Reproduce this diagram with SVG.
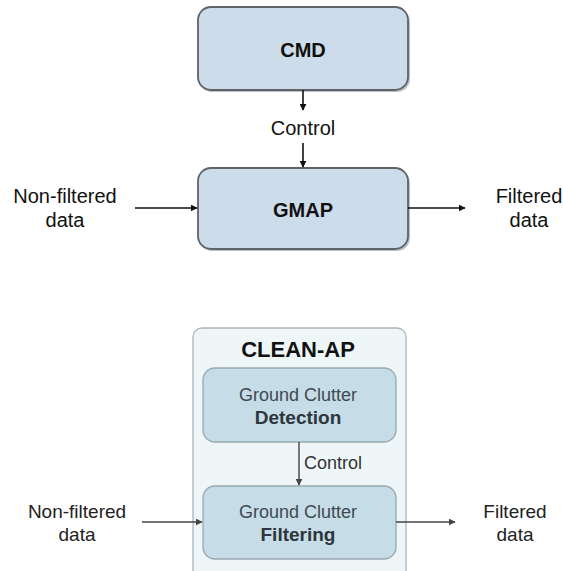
<svg xmlns="http://www.w3.org/2000/svg" width="563" height="571" viewBox="0 0 563 571">
<defs>
<marker id="ah" viewBox="0 0 10 10" refX="9" refY="5" markerWidth="7" markerHeight="7" markerUnits="userSpaceOnUse" orient="auto"><path d="M0,0 L10,5 L0,10 z" fill="#111"/></marker>
<marker id="ahg" viewBox="0 0 10 10" refX="9" refY="5" markerWidth="7" markerHeight="7" markerUnits="userSpaceOnUse" orient="auto"><path d="M0,0 L10,5 L0,10 z" fill="#444"/></marker>
<style>
text{font-family:"Liberation Sans",Arial,sans-serif;text-anchor:middle}
.lbl{font-size:20px;fill:#111}
.lblb{font-size:19px;fill:#222}
.top{fill:#cddcea;stroke:#5f6468;stroke-width:1.8}
.shadow{fill:#b9c2c9}
.outer{fill:#eef6f8;stroke:#a9b6bc;stroke-width:1.3}
.inner{fill:#c6dce6;stroke:#98a9b1;stroke-width:1.3}
.t1{font-size:20px;font-weight:bold;fill:#111}
.gc{font-size:18px;fill:#3e4a52}
.gcb{font-size:19px;font-weight:bold;fill:#2c363c}
.c1{stroke:#111;stroke-width:1.6;fill:none}
.c2{stroke:#444;stroke-width:1.4;fill:none}
</style>
</defs>
<rect width="563" height="571" fill="#fff"/>
<g id="cmd">
<rect class="shadow" x="199" y="9" width="211" height="83" rx="13"/>
<rect class="top" x="198" y="7" width="210" height="83" rx="13"/>
<text class="t1" x="303" y="57">CMD</text>
</g>
<g id="gmap">
<rect class="shadow" x="199" y="170" width="211" height="81" rx="13"/>
<rect class="top" x="198" y="168" width="210" height="81" rx="13"/>
<text class="t1" x="303" y="217">GMAP</text>
</g>
<g id="labels-top">
<text class="lbl" x="303" y="135">Control</text>
<text class="lbl" x="65" y="203">Non-filtered</text>
<text class="lbl" x="65" y="227">data</text>
<text class="lbl" x="529" y="203">Filtered</text>
<text class="lbl" x="529" y="227">data</text>
</g>
<g id="clean-ap">
<rect class="outer" x="193" y="328" width="213" height="260" rx="9"/>
<text x="298" y="357" style="font-size:22px;font-weight:bold;fill:#111">CLEAN-AP</text>
</g>
<g id="detection">
<rect class="inner" x="203" y="368" width="193" height="74" rx="12"/>
<text class="gc" x="298" y="401">Ground Clutter</text>
<text class="gcb" x="298" y="424">Detection</text>
</g>
<g id="filtering">
<rect class="inner" x="203" y="486" width="193" height="73" rx="12"/>
<text class="gc" x="298" y="518">Ground Clutter</text>
<text class="gcb" x="298" y="541">Filtering</text>
</g>
<g id="labels-bottom">
<text class="gc" x="329" y="469" style="text-anchor:start;fill:#333" transform="translate(-25 0)">Control</text>
<text class="lblb" x="77" y="518">Non-filtered</text>
<text class="lblb" x="77" y="541">data</text>
<text class="lblb" x="515" y="518">Filtered</text>
<text class="lblb" x="515" y="541">data</text>
</g>
<g id="connectors">
<line class="c1" x1="303" y1="90" x2="303" y2="110" marker-end="url(#ah)"/>
<line class="c1" x1="303" y1="143" x2="303" y2="167" marker-end="url(#ah)"/>
<line class="c1" x1="135" y1="208" x2="197" y2="208" marker-end="url(#ah)"/>
<line class="c1" x1="408" y1="208" x2="465" y2="208" marker-end="url(#ah)"/>
<line class="c2" x1="299" y1="442" x2="299" y2="485" marker-end="url(#ahg)"/>
<line class="c2" x1="142" y1="522" x2="202" y2="522" marker-end="url(#ahg)"/>
<line class="c2" x1="396" y1="522" x2="455" y2="522" marker-end="url(#ahg)"/>
</g>
</svg>
